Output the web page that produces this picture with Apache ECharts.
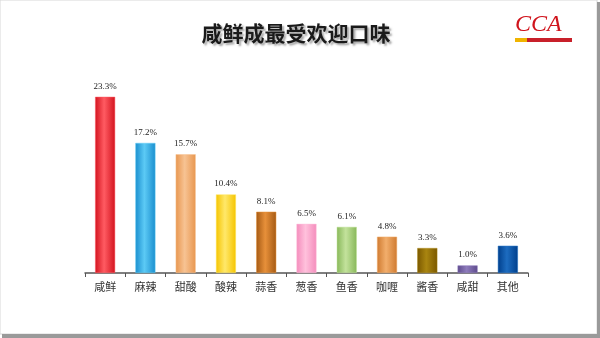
<!DOCTYPE html>
<html>
<head>
<meta charset="utf-8">
<script src="https://cdn.jsdelivr.net/npm/echarts@6/dist/echarts.min.js"></script>
<style>
html,body{margin:0;padding:0;background:#fff;}
#chart{width:600px;height:338px;}
</style>
</head>
<body>
<div id="chart"></div>
<script>
// Flavour categories and their share (%)
const categories = ['咸鲜', '麻辣', '甜酸', '酸辣', '蒜香', '葱香', '鱼香', '咖喱', '酱香', '咸甜', '其他'];
const shares = [23.3, 17.2, 15.7, 10.4, 8.1, 6.5, 6.1, 4.8, 3.3, 1.0, 3.6];
// Bar colours: [edge, highlight]
const barColors = [
  ['#d3141f', '#ff5b62'],
  ['#1b8fcf', '#5ccaf5'],
  ['#e8964f', '#f7c393'],
  ['#f5c400', '#ffe86a'],
  ['#a55a14', '#e7903a'],
  ['#f48cbc', '#ffc1dc'],
  ['#88b85a', '#c3e29c'],
  ['#cf7a30', '#f2ae6c'],
  ['#7a5800', '#a98510'],
  ['#5e4b8c', '#8e7cbc'],
  ['#003f8c', '#1d6cc0']
];

function cylinder(c) {
  return new echarts.graphic.LinearGradient(0, 0, 1, 0, [
    { offset: 0, color: c[0] },
    { offset: 0.45, color: c[1] },
    { offset: 1, color: c[0] }
  ]);
}

const chart = echarts.init(document.getElementById('chart'), null, { renderer: 'canvas' });

chart.setOption({
  animation: false,
  backgroundColor: '#ffffff',
  title: {
    text: '咸鲜成最受欢迎口味',
    left: 291,
    textAlign: 'center',
    top: 18,
    textStyle: {
      fontFamily: 'Noto Sans CJK SC',
      fontSize: 21,
      fontWeight: 'bold',
      color: '#1a1a1a',
      textShadowColor: 'rgba(0,0,0,0.35)',
      textShadowOffsetX: 2,
      textShadowOffsetY: 2,
      textShadowBlur: 2
    }
  },
  grid: { left: 85, right: 72, top: 84, bottom: 65 },
  xAxis: {
    type: 'category',
    data: categories,
    boundaryGap: true,
    axisLine: { lineStyle: { color: '#555', width: 1.5 } },
    axisTick: { show: true, length: 4, inside: false, lineStyle: { color: '#555' } },
    axisLabel: {
      color: '#333',
      fontFamily: 'Noto Sans CJK SC',
      fontSize: 11,
      margin: 8
    }
  },
  yAxis: {
    type: 'value',
    min: 0,
    max: 25,
    show: false,
    splitLine: { show: false }
  },
  series: [{
    type: 'bar',
    barWidth: 20,
    data: shares.map((v, i) => ({
      value: v,
      itemStyle: { color: cylinder(barColors[i]), borderColor: barColors[i][1], borderWidth: 0.5 }
    })),
    label: {
      show: true,
      position: 'top',
      distance: 6,
      formatter: p => p.value.toFixed(1) + '%',
      fontFamily: 'Liberation Serif',
      fontSize: 9,
      color: '#222'
    }
  }],
  graphic: [
    // slide frame with shadow on the right and bottom edges
    { type: 'rect', shape: { x: 0, y: 0, width: 597, height: 334 }, style: { fill: 'none', stroke: '#d8d8d8', lineWidth: 1 }, z: 10 },
    { type: 'rect', shape: { x: 597, y: 2, width: 3, height: 336 }, style: { fill: '#9a9a9a' }, z: 10 },
    { type: 'rect', shape: { x: 2, y: 334, width: 598, height: 4 }, style: { fill: '#9a9a9a' }, z: 10 },
    // CCA logo
    {
      type: 'text', left: 515, top: 13, z: 10,
      style: { text: 'CCA', fill: '#d0141c', font: 'italic 24px "Liberation Serif"' }
    },
    { type: 'rect', shape: { x: 515, y: 38, width: 12, height: 4 }, style: { fill: '#f0b400' }, z: 10 },
    { type: 'rect', shape: { x: 527, y: 38, width: 45, height: 4 }, style: { fill: '#c8202a' }, z: 10 }
  ]
});
</script>
</body>
</html>
